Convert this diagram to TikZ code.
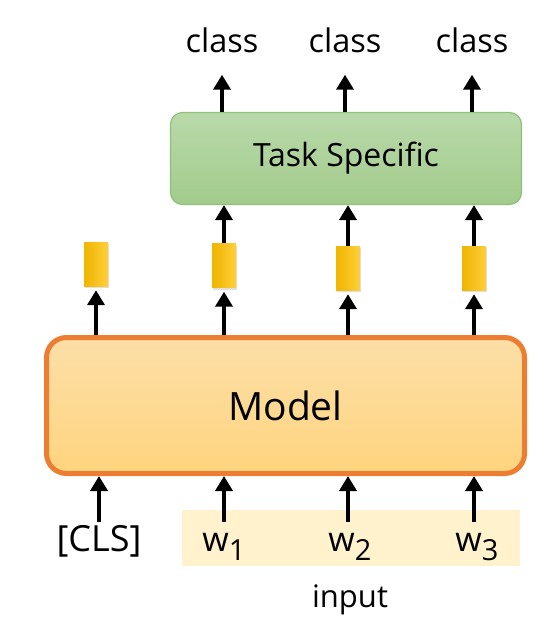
\documentclass[tikz,border=0pt]{standalone}
\usepackage{fontspec}
\setmainfont{Open Sans}
\usepackage{xcolor}
\usetikzlibrary{arrows.meta, positioning, shadows}

\definecolor{modelline}{HTML}{ED7D31}
\definecolor{modeltop}{HTML}{FCDFA8}
\definecolor{modelbot}{HTML}{FFD47E}
\definecolor{tasktop}{HTML}{B9D9AA}
\definecolor{taskbot}{HTML}{A2CB8C}
\definecolor{taskline}{HTML}{8EC07A}
\definecolor{hidleft}{HTML}{EFB500}
\definecolor{hidright}{HTML}{FFCE3C}
\definecolor{inputbg}{HTML}{FFF2CC}

\newcommand{\wsub}[1]{w\raisebox{-9pt}{\fontsize{29}{29}\selectfont #1}}

\begin{document}
\begin{tikzpicture}[x=1pt, y=-1pt,
    arr/.style={line width=4.6pt, -{Triangle[width=17pt, length=15pt]}},
    hid/.style={minimum width=24pt, minimum height=44pt, inner sep=0pt,
        left color=hidleft, right color=hidright,
        drop shadow={shadow xshift=0.5pt, shadow yshift=-2pt, opacity=0.25}},
    lbl/.style={font=\fontsize{32.5}{32.5}\selectfont, inner sep=0pt},
    inlbl/.style={font=\fontsize{34}{34}\selectfont, inner sep=0pt, anchor=base,
        text height=29pt, text depth=10pt}]
    \useasboundingbox (0,0) rectangle (548,629);

    % Input band
    \node[fill=inputbg, minimum width=338pt, minimum height=56pt, inner sep=0pt] (band) at (351,538) {};

    % Model
    \node[draw=modelline, line width=5pt, rounded corners=20pt, top color=modeltop, bottom color=modelbot,
        minimum width=478pt, minimum height=136pt, font=\fontsize{39}{39}\selectfont] (model) at (285.5,405.5) {Model};

    % Task specific layer
    \node[draw=taskline, line width=1.2pt, rounded corners=12pt, top color=tasktop, bottom color=taskbot,
        minimum width=351pt, minimum height=92pt, font=\fontsize{32}{32}\selectfont] (task) at (346,158.5) {Task Specific};

    % Hidden vectors
    \node[hid] (h0) at (96,264) {};
    \node[hid] (h1) at (224,265.5) {};
    \node[hid] (h2) at (348,268) {};
    \node[hid] (h3) at (474,268) {};

    % Outputs
    \node[lbl] (c1) at (222,40) {class};
    \node[lbl] (c2) at (345,40) {class};
    \node[lbl] (c3) at (472,40) {class};

    % Inputs
    \node[inlbl, font=\fontsize{36}{36}\selectfont] (cls) at (99,551) {[CLS]};
    \node[inlbl] (w1) at (224,551) {\wsub{1}};
    \node[inlbl] (w2) at (350,551) {\wsub{2}};
    \node[inlbl] (w3) at (477,551) {\wsub{3}};
    \node[font=\fontsize{31}{31}\selectfont, inner sep=0pt, anchor=base] (inp) at (350,607) {input};

    % Arrows into the model
    \draw[arr] (cls.north) -- (model.south -| cls);
    \draw[arr] (w1.north -| h1) -- (model.south -| h1);
    \draw[arr] (w2.north -| h2) -- (model.south -| h2);
    \draw[arr] (w3.north -| h3) -- (model.south -| h3);

    % Arrows out of the model
    \draw[arr, shorten >=4pt] (model.north -| h0) -- (h0.south);
    \draw[arr, shorten >=4pt] (model.north -| h1) -- (h1.south);
    \draw[arr, shorten >=4pt] (model.north -| h2) -- (h2.south);
    \draw[arr, shorten >=4pt] (model.north -| h3) -- (h3.south);

    % Into the task layer
    \draw[arr] (h1.north) -- (task.south -| h1);
    \draw[arr] (h2.north) -- (task.south -| h2);
    \draw[arr] (h3.north) -- (task.south -| h3);

    % Task layer to classes
    \draw[arr, shorten >=22pt] (task.north -| c1) -- (c1.south);
    \draw[arr, shorten >=22pt] (task.north -| c2) -- (c2.south);
    \draw[arr, shorten >=22pt] (task.north -| c3) -- (c3.south);
\end{tikzpicture}
\end{document}
